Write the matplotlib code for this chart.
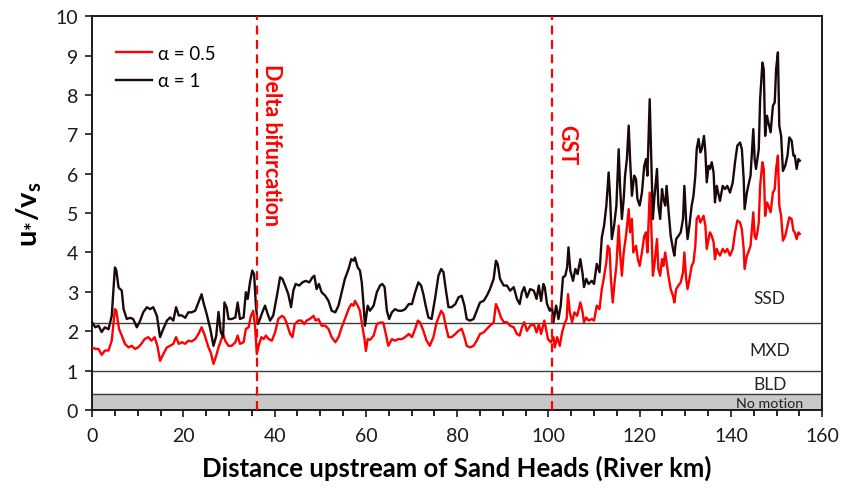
import numpy as np
import matplotlib
matplotlib.use("Agg")
import matplotlib.pyplot as plt
from matplotlib.ticker import MultipleLocator

plt.rcParams["font.family"] = ["Lato", "DejaVu Sans"]
plt.rcParams["mathtext.fontset"] = "custom"
plt.rcParams["mathtext.rm"] = "Lato"
plt.rcParams["mathtext.it"] = "Lato:italic"
plt.rcParams["mathtext.bf"] = "Lato:bold"

# alpha = 1 (black)
km_a1 = [0.0, 0.7, 1.4, 2.1, 2.8, 3.6, 4.3, 5.0, 5.3, 5.8, 6.5, 6.9, 7.6, 8.3, 9.0, 9.8,
         10.5, 11.2, 12.0, 12.7, 13.4, 14.2, 14.9, 15.6, 16.4, 17.1, 17.8, 18.4, 19.0, 19.7,
         20.4, 21.1, 21.8, 22.6, 23.3, 24.0, 24.4, 25.1, 25.9, 26.6, 27.2, 27.7, 28.2, 28.7,
         29.0, 29.5, 29.9, 30.6, 31.4, 31.9, 32.4, 33.2, 33.7, 34.1, 34.6, 35.1, 35.5, 35.9,
         36.3, 36.8, 37.3, 37.9, 38.5, 39.0, 39.7, 40.5, 41.2, 41.7, 42.3, 43.0, 43.6, 44.1,
         44.6, 45.4, 46.1, 46.8, 47.6, 48.3, 48.7, 49.2, 49.7, 50.3, 51.1, 51.8, 52.5, 53.3,
         54.0, 54.7, 55.4, 56.2, 56.8, 57.3, 57.6, 58.2, 58.7, 59.1, 59.5, 59.8, 60.4, 60.9,
         61.7, 62.4, 63.1, 63.6, 64.1, 64.6, 65.1, 65.7, 66.4, 67.1, 67.9, 68.6, 69.4, 70.1,
         70.8, 71.5, 72.1, 72.6, 73.1, 73.7, 74.4, 75.2, 75.9, 76.5, 77.0, 77.5, 78.1, 78.8,
         79.6, 80.3, 81.0, 81.6, 82.1, 82.8, 83.6, 84.3, 85.0, 85.8, 86.5, 87.2, 88.0, 88.5,
         88.9, 89.4, 90.2, 90.9, 91.6, 92.4, 93.1, 93.7, 94.2, 94.7, 95.3, 96.0, 96.8, 97.4,
         97.9, 98.4, 98.9, 99.2, 99.7, 100.3, 100.8, 101.1, 101.7, 102.2, 102.7, 103.2, 103.7,
         104.1, 104.4, 104.8, 105.4, 105.9, 106.4, 107.0, 107.5, 107.8, 108.3, 108.8, 109.5,
         110.0, 110.6, 111.2, 111.7, 112.2, 112.7, 113.2, 113.5, 113.9, 114.4, 114.9, 115.4,
         115.7, 116.1, 116.5, 116.8, 117.2, 117.6, 117.9, 118.3, 118.8, 119.2, 119.5, 120.0,
         120.5, 121.0, 121.4, 121.7, 122.2, 122.5, 122.9, 123.2, 123.8, 124.1, 124.5, 124.9,
         125.2, 125.6, 125.9, 126.3, 126.8, 127.3, 127.6, 128.0, 128.5, 129.0, 129.5, 129.8,
         130.2, 130.5, 130.9, 131.4, 131.8, 132.2, 132.5, 132.9, 133.3, 133.6, 134.1, 134.4,
         134.7, 135.1, 135.4, 135.8, 136.2, 136.5, 136.9, 137.2, 137.6, 138.2, 138.7, 139.2,
         139.8, 140.4, 140.9, 141.4, 142.0, 142.4, 142.8, 143.0, 143.5, 143.8, 144.3, 144.9,
         145.2, 145.5, 145.8, 146.1, 146.4, 146.9, 147.2, 147.5, 147.9, 148.2, 148.7, 149.2,
         149.6, 149.9, 150.3, 150.6, 151.0, 151.4, 151.9, 152.4, 152.8, 153.3, 153.7, 154.0,
         154.4, 154.8, 155.1]
ratio_a1 = [2.23, 2.10, 2.14, 1.98, 2.10, 2.05, 2.39, 3.62, 3.55, 3.11, 3.03, 2.56, 2.31, 2.34, 2.31, 2.10,
            2.26, 2.48, 2.61, 2.56, 2.61, 2.39, 1.85, 2.06, 2.27, 2.35, 2.27, 2.61, 2.40, 2.40,
            2.34, 2.48, 2.48, 2.52, 2.73, 2.94, 2.73, 2.44, 2.06, 1.63, 1.88, 2.49, 1.98, 1.85,
            2.73, 2.60, 2.31, 2.31, 2.35, 2.73, 2.31, 2.35, 2.99, 2.82, 3.24, 3.54, 3.45, 2.65,
            2.18, 2.31, 2.48, 2.65, 2.43, 2.27, 2.40, 2.90, 3.37, 3.33, 3.16, 2.94, 2.61, 3.03,
            3.20, 3.16, 3.24, 3.28, 3.24, 3.37, 3.41, 3.07, 3.20, 2.99, 2.90, 2.77, 2.52, 2.48,
            2.65, 2.99, 3.33, 3.58, 3.83, 3.79, 3.87, 3.62, 3.54, 3.24, 2.65, 2.14, 2.65, 2.52,
            2.65, 2.99, 3.16, 3.20, 3.12, 2.52, 2.31, 2.48, 2.56, 2.52, 2.52, 2.56, 2.69, 2.69,
            2.99, 3.24, 3.16, 2.94, 2.65, 2.35, 2.31, 2.86, 3.41, 3.58, 3.50, 3.07, 2.61, 2.61,
            2.69, 2.86, 2.90, 2.65, 2.31, 2.27, 2.31, 2.52, 2.73, 2.77, 2.90, 3.07, 3.33, 3.79,
            3.70, 3.33, 3.16, 3.16, 3.03, 3.12, 2.82, 2.69, 2.99, 3.12, 2.86, 3.07, 3.03, 2.82,
            3.16, 2.77, 3.20, 3.12, 2.69, 2.52, 2.61, 2.23, 2.65, 2.31, 2.65, 3.37, 3.41,
            3.62, 4.13, 3.54, 3.28, 3.58, 3.45, 3.83, 3.45, 3.12, 3.33, 3.20, 3.28,
            3.20, 3.71, 3.50, 4.38, 4.68, 5.19, 6.03, 5.44, 4.34, 4.68, 5.19, 6.62,
            5.69, 4.85, 5.36, 5.95, 6.37, 7.22, 6.37, 5.44, 5.95, 5.86, 5.36, 5.19,
            5.52, 6.20, 6.37, 5.95, 7.89, 6.54, 4.85, 5.36, 6.12, 5.19, 4.85, 5.61,
            5.36, 5.19, 5.69, 5.10, 4.42, 4.09, 3.92, 4.34, 4.42, 4.51, 4.85, 5.69,
            4.76, 4.34, 4.68, 5.19, 5.44, 5.95, 6.62, 6.88, 6.54, 6.62, 6.96, 6.54,
            5.78, 6.20, 6.12, 6.29, 6.03, 5.27, 5.69, 5.52, 5.31, 5.69, 5.61, 5.69,
            5.52, 5.78, 6.29, 6.71, 6.79, 6.62, 5.86, 5.10, 5.52, 5.69, 5.95, 7.13,
            6.37, 6.12, 6.37, 6.62, 7.89, 8.82, 8.65, 6.96, 7.47, 7.30, 7.05, 7.72,
            7.81, 8.65, 9.08, 7.22, 6.96, 6.07, 6.20, 6.46, 6.92, 6.84, 6.46, 6.46,
            6.12, 6.37, 6.33]

# alpha = 0.5 (red)
km_a05 = [0.0, 0.7, 1.4, 2.1, 2.8, 3.6, 4.3, 5.0, 5.3, 5.9, 6.5, 7.2, 8.0, 8.7, 9.4, 10.1,
          10.8, 11.5, 12.3, 13.0, 13.7, 14.3, 14.9, 15.6, 16.4, 17.1, 17.8, 18.4, 19.0, 19.7,
          20.4, 21.1, 21.8, 22.6, 23.3, 24.0, 24.7, 25.5, 26.0, 26.6, 27.2, 27.7, 28.5, 28.8,
          29.2, 29.9, 30.6, 31.4, 31.9, 32.4, 33.2, 33.7, 34.3, 34.8, 35.3, 35.7, 36.1, 36.5,
          37.1, 37.6, 38.1, 38.7, 39.4, 40.1, 40.8, 41.6, 42.1, 42.6, 43.4, 43.9, 44.4, 45.2,
          45.9, 46.5, 47.0, 47.7, 48.5, 49.0, 49.6, 50.3, 51.1, 51.8, 52.5, 53.3, 54.0, 54.7,
          55.4, 56.2, 56.8, 57.3, 57.6, 58.2, 58.7, 59.2, 59.7, 60.0, 60.4, 60.9, 61.7, 62.4,
          63.1, 63.8, 64.3, 64.9, 65.7, 66.4, 67.1, 67.9, 68.6, 69.4, 70.1, 70.8, 71.4, 71.9,
          72.6, 73.3, 74.0, 74.8, 75.5, 76.5, 77.0, 77.5, 78.1, 78.8, 79.6, 80.3, 81.0, 81.6,
          82.1, 82.8, 83.6, 84.3, 85.0, 85.8, 86.5, 87.2, 88.0, 88.5, 89.0, 89.6, 90.2, 90.9,
          91.6, 92.4, 93.1, 93.7, 94.2, 94.7, 95.3, 96.0, 96.8, 97.4, 97.9, 98.4, 99.1, 99.4,
          99.9, 100.5, 101.1, 101.4, 101.9, 102.5, 103.0, 103.5, 104.0, 104.3, 104.7, 105.2,
          105.7, 106.3, 107.0, 107.5, 107.8, 108.3, 108.8, 109.5, 110.0, 110.6, 111.2, 111.7,
          112.1, 112.7, 113.0, 113.4, 113.7, 114.1, 114.5, 114.9, 115.4, 115.7, 116.1, 116.5,
          117.0, 117.6, 117.9, 118.3, 118.6, 119.2, 119.6, 120.0, 120.5, 121.0, 121.4, 121.7,
          122.2, 122.5, 122.9, 123.2, 123.8, 124.1, 124.5, 124.9, 125.2, 125.6, 125.9, 126.3,
          126.8, 127.3, 127.6, 128.0, 128.5, 129.0, 129.5, 129.8, 130.2, 130.5, 130.9, 131.4,
          131.8, 132.2, 132.5, 132.9, 133.3, 134.0, 134.4, 134.7, 135.1, 135.4, 135.8, 136.2,
          136.5, 136.9, 137.2, 137.6, 138.2, 138.7, 139.2, 139.8, 140.4, 140.9, 141.4, 142.0,
          142.4, 142.8, 143.0, 143.5, 143.8, 144.3, 144.9, 145.2, 145.5, 145.8, 146.1, 146.4,
          146.9, 147.2, 147.5, 147.9, 148.2, 148.7, 149.2, 149.6, 149.9, 150.3, 150.6, 151.0,
          151.4, 151.9, 152.4, 152.8, 153.3, 153.7, 154.0, 154.4, 154.8, 155.1]
ratio_a05 = [1.59, 1.55, 1.55, 1.40, 1.51, 1.51, 1.76, 2.56, 2.52, 2.06, 1.89, 1.68, 1.59, 1.63, 1.55, 1.59,
             1.68, 1.80, 1.85, 1.76, 1.85, 1.63, 1.25, 1.42, 1.59, 1.63, 1.68, 1.85, 1.68, 1.72,
             1.68, 1.76, 1.74, 1.80, 1.93, 2.10, 1.89, 1.59, 1.46, 1.17, 1.38, 1.59, 1.85, 1.89,
             1.75, 1.63, 1.63, 1.72, 1.89, 1.68, 1.72, 2.06, 2.10, 2.39, 2.52, 2.14, 1.42, 1.63,
             1.85, 1.80, 1.89, 1.80, 1.76, 1.97, 2.31, 2.39, 2.35, 2.22, 1.93, 1.85, 2.18, 2.27,
             2.27, 2.18, 2.27, 2.31, 2.39, 2.27, 2.31, 2.14, 2.14, 2.06, 1.85, 1.72, 1.85, 2.10,
             2.31, 2.56, 2.69, 2.65, 2.77, 2.65, 2.52, 2.14, 1.80, 1.50, 1.80, 1.78, 1.89, 2.18,
             2.22, 2.22, 1.97, 1.63, 1.80, 1.76, 1.80, 1.80, 1.85, 1.93, 1.85, 2.06, 2.27, 2.22,
             2.01, 1.76, 1.63, 1.85, 2.22, 2.52, 2.43, 2.14, 1.85, 1.85, 1.93, 2.01, 2.06, 1.85,
             1.63, 1.59, 1.63, 1.76, 1.93, 1.97, 2.06, 2.14, 2.22, 2.69, 2.56, 2.35, 2.23, 2.23,
             2.14, 2.10, 1.93, 1.89, 2.10, 2.23, 2.01, 2.14, 2.18, 1.97, 2.18, 1.93, 2.27, 2.10,
             1.80, 1.72, 1.85, 1.59, 1.85, 1.63, 1.97, 2.18, 2.31, 2.94, 2.48, 2.23,
             2.48, 2.39, 2.73, 2.48, 2.23, 2.35, 2.27, 2.31, 2.27, 2.65, 2.56, 3.07,
             3.32, 3.75, 4.17, 4.09, 3.32, 2.73, 3.24, 3.66, 4.68, 4.00, 3.41, 4.00,
             4.42, 5.10, 4.51, 4.85, 4.00, 4.17, 3.83, 3.66, 4.00, 4.42, 4.51, 4.00,
             5.52, 4.85, 3.41, 3.66, 4.34, 3.58, 3.41, 3.83, 3.66, 4.00, 3.75, 3.41,
             3.07, 2.90, 2.73, 3.07, 3.16, 3.24, 3.49, 4.00, 3.32, 3.07, 3.32, 3.66,
             3.75, 4.17, 4.85, 4.93, 4.76, 4.93, 4.68, 4.09, 4.34, 4.51, 4.42, 4.26,
             3.83, 4.09, 4.00, 3.92, 4.09, 4.00, 4.09, 3.92, 4.09, 4.51, 4.81, 4.76,
             4.59, 4.09, 3.58, 3.92, 4.00, 4.17, 5.02, 4.42, 4.34, 4.51, 4.76, 5.69,
             6.29, 6.12, 4.93, 5.27, 5.19, 5.02, 5.52, 5.61, 6.12, 6.46, 5.19, 4.93,
             4.30, 4.42, 4.68, 4.89, 4.85, 4.55, 4.51, 4.34, 4.51, 4.47]

# regime thresholds and marker positions
regime_bounds = [0.4, 1.0, 2.2]
regime_labels = ["No motion", "BLD", "MXD", "SSD"]
delta_km = 36.2
gst_km = 100.8

red = "#ff0000"
dark = "#1c0808"

fig = plt.figure(figsize=(8.45, 4.89), dpi=100)
ax = fig.add_axes([0.109, 0.1595, 0.864, 0.8055])

ax.axhspan(0, regime_bounds[0], color="#c8c8c8", zorder=0)
for yb in regime_bounds:
    ax.axhline(yb, color="#3c3c3c", lw=1.0, zorder=1)

ax.plot(km_a05, ratio_a05, color=red, lw=1.7, label="α = 0.5", zorder=3)
ax.plot(km_a1, ratio_a1, color=dark, lw=1.7, label="α = 1", zorder=3)

ax.axvline(delta_km, color=red, lw=1.6, ls=(0, (4, 2.5)), zorder=4)
ax.axvline(gst_km, color=red, lw=1.6, ls=(0, (4, 2.5)), zorder=4)
ax.text(delta_km + 0.9, 8.8, "Delta bifurcation", color=red, fontsize=15.5,
        fontweight="bold", rotation=270, ha="left", va="top")
ax.text(gst_km + 0.9, 7.25, "GST", color=red, fontsize=15.5,
        fontweight="bold", rotation=270, ha="left", va="top")

ax.text(148.5, 2.85, regime_labels[3], fontsize=12.5, ha="center", va="center", color="#222222")
ax.text(148.5, 1.52, regime_labels[2], fontsize=12.5, ha="center", va="center", color="#222222")
ax.text(148.5, 0.67, regime_labels[1], fontsize=12.5, ha="center", va="center", color="#222222")
ax.text(148.5, 0.19, regime_labels[0], fontsize=10.3, ha="center", va="center", color="#222222")

ax.set_xlim(0, 160)
ax.set_ylim(0, 10)
ax.xaxis.set_major_locator(MultipleLocator(20))
ax.xaxis.set_minor_locator(MultipleLocator(5))
ax.yaxis.set_major_locator(MultipleLocator(1))
ax.tick_params(axis="both", which="major", direction="out", length=5, width=1.2,
               labelsize=14, colors="#1a1a1a")
ax.tick_params(axis="x", which="major", pad=7)
ax.tick_params(axis="y", which="major", pad=5)
ax.tick_params(axis="x", which="minor", direction="out", length=4, width=1.2)
for sp in ax.spines.values():
    sp.set_linewidth(1.4)
    sp.set_color("#1a1a1a")

ax.set_xlabel("Distance upstream of Sand Heads (River km)", fontsize=18.5,
              fontweight="bold", labelpad=8)
ax.set_ylabel(r"$\mathbf{u_{*}/v_{s}}$", fontsize=21, labelpad=8)

ax.legend(loc="upper left", frameon=False, fontsize=13.5, handlelength=1.9,
          handletextpad=0.3, labelspacing=0.55, bbox_to_anchor=(0.01, 0.97))

fig.savefig("out.png", dpi=100)
